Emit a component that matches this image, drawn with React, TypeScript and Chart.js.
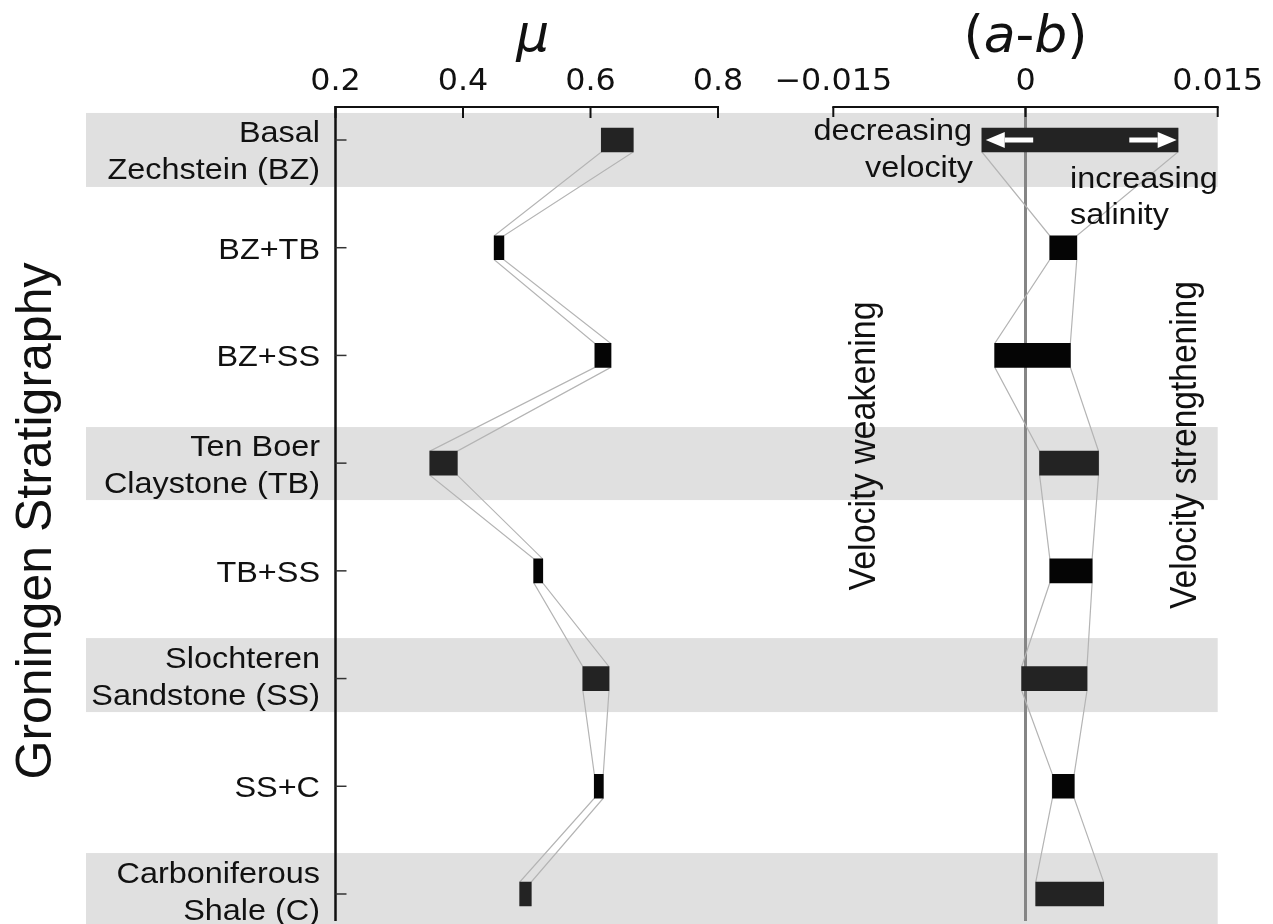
import React, { useEffect, useRef } from "react";
import { Chart, registerables } from "chart.js";

Chart.register(...registerables);

// ---- data ----
const rowLabels: string[][] = [
  ["Basal", "Zechstein (BZ)"],
  ["BZ+TB"],
  ["BZ+SS"],
  ["Ten Boer", "Claystone (TB)"],
  ["TB+SS"],
  ["Slochteren", "Sandstone (SS)"],
  ["SS+C"],
  ["Carboniferous", "Shale (C)"],
];
const muMin = [0.617, 0.449, 0.607, 0.348, 0.511, 0.588, 0.606, 0.489];
const muMax = [0.667, 0.464, 0.632, 0.391, 0.525, 0.629, 0.62, 0.507];
const abMin = [-0.0034, 0.0019, -0.0024, 0.0011, 0.0019, -0.0003, 0.0021, 0.0008];
const abMax = [0.0119, 0.004, 0.0035, 0.0057, 0.0052, 0.0048, 0.0038, 0.0061];
const muTicks = [0.2, 0.4, 0.6, 0.8];
const muTickLabels = ["0.2", "0.4", "0.6", "0.8"];
const abTicks = [-0.015, 0, 0.015];
const abTickLabels = ["\u22120.015", "0", "0.015"];
const bandRows = [0, 3, 5, 7];
const bandStart = [-0.251, 2.665, 4.624, 6.62];
const bandEnd = [0.436, 3.343, 5.311, 7.31];
// arrows inside the top (a-b) bar: [tail, head]
const arrowLeft = [0.0006, -0.0031];
const arrowRight = [0.0081, 0.0118];

const BAR_PX = 24;
const HALF = 0.111; // half bar height in row units

function edgeLine(vals: number[]) {
  const pts: { x: number; y: number }[] = [];
  vals.forEach((v, i) => {
    pts.push({ x: v, y: i - HALF });
    pts.push({ x: v, y: i + HALF });
  });
  return pts;
}

function txt(
  ctx: CanvasRenderingContext2D,
  s: string,
  x: number,
  y: number,
  font: string,
  align: CanvasTextAlign,
  rot = 0,
  sx = 1.08
) {
  ctx.save();
  ctx.translate(x, y);
  ctx.scale(sx, 1);
  ctx.rotate(rot);
  ctx.font = font;
  ctx.textAlign = align;
  ctx.textBaseline = "alphabetic";
  ctx.fillStyle = "#111";
  ctx.fillText(s, 0, 0);
  ctx.restore();
}

const LABEL_FONT = "30px 'Liberation Sans', Arial, sans-serif";
const TICK_FONT = "30px 'DejaVu Sans', sans-serif";

const decorPlugin = {
  id: "decor",
  beforeDatasetsDraw(chart: any) {
    const ctx: CanvasRenderingContext2D = chart.ctx;
    const y = chart.scales.y;
    const xAB = chart.scales.xAB;
    ctx.save();
    ctx.fillStyle = "#e0e0e0";
    const right = xAB.getPixelForValue(0.015);
    bandRows.forEach((r, k) => {
      const t = y.getPixelForValue(bandStart[k]);
      const b = y.getPixelForValue(bandEnd[k]);
      ctx.fillRect(86, t, right - 86, b - t);
    });
    // zero line
    const z = xAB.getPixelForValue(0);
    ctx.strokeStyle = "#858585";
    ctx.lineWidth = 3;
    ctx.beginPath();
    ctx.moveTo(z, chart.chartArea.top);
    ctx.lineTo(z, chart.chartArea.bottom - 3);
    ctx.stroke();
    ctx.restore();
  },
  afterDatasetsDraw(chart: any) {
    const ctx: CanvasRenderingContext2D = chart.ctx;
    const y = chart.scales.y;
    const xAB = chart.scales.xAB;
    const xMu = chart.scales.xMu;
    const top = chart.chartArea.top;
    ctx.save();
    // arrows
    const cy = y.getPixelForValue(0);
    const drawArrow = (tail: number, head: number) => {
      const xt = xAB.getPixelForValue(tail);
      const xh = xAB.getPixelForValue(head);
      const dir = Math.sign(xh - xt);
      const hl = 19;
      ctx.fillStyle = "#ffffff";
      ctx.fillRect(Math.min(xt, xh - dir * hl), cy - 2.5, Math.abs(xh - dir * hl - xt), 5);
      ctx.beginPath();
      ctx.moveTo(xh, cy);
      ctx.lineTo(xh - dir * hl, cy - 8);
      ctx.lineTo(xh - dir * hl, cy + 8);
      ctx.closePath();
      ctx.fill();
    };
    drawArrow(arrowLeft[0], arrowLeft[1]);
    drawArrow(arrowRight[0], arrowRight[1]);

    // axes
    ctx.strokeStyle = "#111";
    ctx.lineWidth = 2;
    const m0 = xMu.getPixelForValue(0.2);
    const m1 = xMu.getPixelForValue(0.8);
    ctx.beginPath();
    ctx.moveTo(m0 - 1, top);
    ctx.lineTo(m1 + 1, top);
    ctx.stroke();
    muTicks.forEach((t) => {
      const px = xMu.getPixelForValue(t);
      ctx.beginPath();
      ctx.moveTo(px, top);
      ctx.lineTo(px, top + 11);
      ctx.stroke();
    });
    const a0 = xAB.getPixelForValue(-0.015);
    const a1 = xAB.getPixelForValue(0.015);
    ctx.beginPath();
    ctx.moveTo(a0 - 1, top);
    ctx.lineTo(a1 + 1, top);
    ctx.stroke();
    abTicks.forEach((t) => {
      const px = xAB.getPixelForValue(t);
      ctx.beginPath();
      ctx.moveTo(px, top);
      ctx.lineTo(px, top + 10);
      ctx.stroke();
    });
    // left vertical axis
    ctx.lineWidth = 2.5;
    ctx.beginPath();
    ctx.moveTo(m0, top - 1);
    ctx.lineTo(m0, chart.chartArea.bottom - 3);
    ctx.stroke();
    ctx.strokeStyle = "#333";
    ctx.lineWidth = 1.5;
    rowLabels.forEach((_, i) => {
      const py = y.getPixelForValue(i);
      ctx.beginPath();
      ctx.moveTo(m0, py);
      ctx.lineTo(m0 + 11, py);
      ctx.stroke();
    });
    ctx.restore();
  },
  afterDraw(chart: any) {
    const ctx: CanvasRenderingContext2D = chart.ctx;
    const y = chart.scales.y;
    const xAB = chart.scales.xAB;
    const xMu = chart.scales.xMu;
    // tick labels
    muTicks.forEach((t, i) => txt(ctx, muTickLabels[i], xMu.getPixelForValue(t), 90, TICK_FONT, "center", 0, 1.06));
    abTicks.forEach((t, i) => txt(ctx, abTickLabels[i], xAB.getPixelForValue(t), 90, TICK_FONT, "center", 0, 1.06));
    // axis titles
    const muC = (xMu.getPixelForValue(0.2) + xMu.getPixelForValue(0.8)) / 2 + 6;
    txt(ctx, "\u03bc", muC, 51, "oblique 52px 'DejaVu Sans', sans-serif", "center", 0, 1);
    // (a-b)
    ctx.save();
    const parts: [string, string][] = [
      ["(", "52px 'DejaVu Sans', sans-serif"],
      ["a", "oblique 52px 'DejaVu Sans', sans-serif"],
      ["-", "52px 'DejaVu Sans', sans-serif"],
      ["b", "oblique 52px 'DejaVu Sans', sans-serif"],
      [")", "52px 'DejaVu Sans', sans-serif"],
    ];
    let total = 0;
    parts.forEach(([s, f]) => {
      ctx.font = f;
      total += ctx.measureText(s).width;
    });
    let cx = xAB.getPixelForValue(0) - total / 2;
    parts.forEach(([s, f]) => {
      ctx.font = f;
      ctx.fillStyle = "#111";
      ctx.textAlign = "left";
      ctx.textBaseline = "alphabetic";
      ctx.fillText(s, cx, 52);
      cx += ctx.measureText(s).width;
    });
    ctx.restore();

    // row labels
    rowLabels.forEach((lines, i) => {
      if (lines.length === 1) {
        txt(ctx, lines[0], 320, y.getPixelForValue(i) + 11, LABEL_FONT, "right");
      } else {
        const k = bandRows.indexOf(i);
        const c = k >= 0 ? (y.getPixelForValue(bandStart[k]) + y.getPixelForValue(bandEnd[k])) / 2 : y.getPixelForValue(i);
        txt(ctx, lines[0], 320, c - 7.5, LABEL_FONT, "right");
        txt(ctx, lines[1], 320, c + 29.5, LABEL_FONT, "right");
      }
    });

    // annotations
    txt(ctx, "decreasing", 972, 140, LABEL_FONT, "right");
    txt(ctx, "velocity", 973, 177, LABEL_FONT, "right");
    txt(ctx, "increasing", 1070, 188, LABEL_FONT, "left");
    txt(ctx, "salinity", 1070, 224, LABEL_FONT, "left");
    txt(ctx, "Velocity weakening", 875, 446, "34px 'Liberation Sans', Arial, sans-serif", "center", -Math.PI / 2);
    txt(ctx, "Velocity strengthening", 1196, 445, "33.5px 'Liberation Sans', Arial, sans-serif", "center", -Math.PI / 2);
    txt(ctx, "Groningen Stratigraphy", 51, 521, "50px 'Liberation Sans', Arial, sans-serif", "center", -Math.PI / 2, 1.0);
  },
};

export default function App() {
  const ref = useRef<HTMLCanvasElement | null>(null);
  useEffect(() => {
    if (!ref.current) return;
    const barColor = (c: any) => (bandRows.includes(c.dataIndex) ? "#232323" : "#050505");
    const lineDs = (vals: number[], axis: string) => ({
      type: "line" as const,
      data: edgeLine(vals),
      xAxisID: axis,
      yAxisID: "y",
      indexAxis: "y" as const,
      borderColor: "#b4b4b4",
      borderWidth: 1.2,
      pointRadius: 0,
      fill: false,
      tension: 0,
      order: 5,
    });
    const chart = new Chart(ref.current, {
      type: "bar",
      data: {
        datasets: [
          {
            type: "bar",
            data: muMin.map((v, i) => ({ y: i, x: [v, muMax[i]] })) as any,
            xAxisID: "xMu",
            yAxisID: "y",
            backgroundColor: barColor,
            borderWidth: 0,
            barThickness: BAR_PX,
            grouped: false,
            order: 1,
          },
          {
            type: "bar",
            data: abMin.map((v, i) => ({ y: i, x: [v, abMax[i]] })) as any,
            xAxisID: "xAB",
            yAxisID: "y",
            backgroundColor: barColor,
            borderWidth: 0,
            barThickness: BAR_PX,
            grouped: false,
            order: 1,
          },
          lineDs(muMin, "xMu") as any,
          lineDs(muMax, "xMu") as any,
          lineDs(abMin, "xAB") as any,
          lineDs(abMax, "xAB") as any,
        ],
      },
      options: {
        indexAxis: "y",
        animation: false,
        responsive: true,
        maintainAspectRatio: false,
        layout: { padding: { left: 335.5, right: 55.3, top: 107, bottom: 0 } },
        plugins: { legend: { display: false }, tooltip: { enabled: false } },
        scales: {
          xMu: { type: "linear", axis: "x", min: 0.2, max: 1.5838, display: false, offset: false },
          xAB: { type: "linear", axis: "x", min: -0.05385, max: 0.015, display: false, offset: false },
          y: { type: "linear", min: -0.3064, max: 7.2786, reverse: true, display: false, offset: false },
        },
      },
      plugins: [decorPlugin],
    });
    return () => chart.destroy();
  }, []);
  return (
    <div style={{ position: "absolute", left: 0, top: 0, width: 1273, height: 924, background: "#fff" }}>
      <canvas ref={ref} />
    </div>
  );
}
